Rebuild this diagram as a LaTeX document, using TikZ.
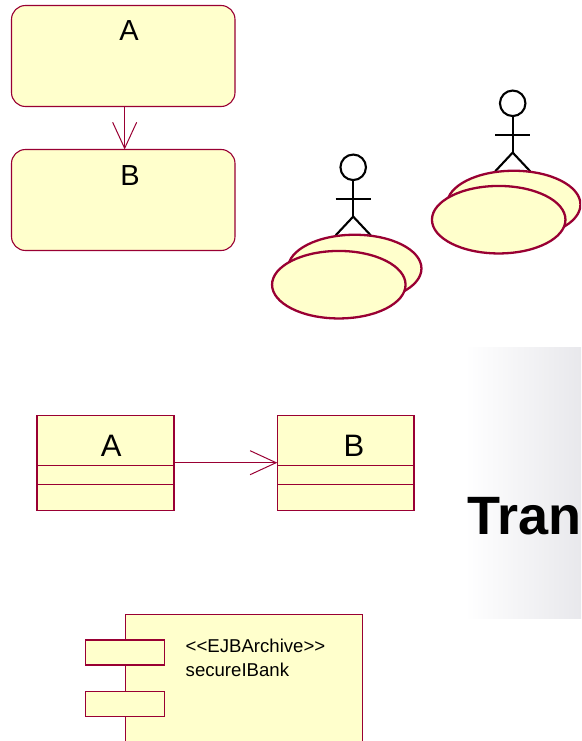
\documentclass[tikz,border=0pt]{standalone}
\usepackage{fontspec}
\setmainfont{Liberation Sans}
\usetikzlibrary{arrows.meta,shapes.geometric}
\definecolor{umlfill}{HTML}{FFFFCC}
\definecolor{umlline}{HTML}{990033}
\definecolor{bandgrey}{HTML}{E8E8EC}
\tikzset{
  statebox/.style={draw=umlline,fill=umlfill,line width=1.1pt,rounded corners=14pt,minimum width=223.5pt,minimum height=101pt,inner sep=0pt,outer sep=0pt},
  classbox/.style={draw=umlline,fill=umlfill,line width=1.3pt,minimum width=136.8pt,minimum height=95pt,inner sep=0pt,outer sep=0pt},
  compbody/.style={draw=umlline,fill=umlfill,line width=1.3pt,minimum width=236.5pt,minimum height=160pt,inner sep=0pt,outer sep=0pt},
  compport/.style={draw=umlline,fill=umlfill,line width=1.3pt,minimum width=79pt,minimum height=25pt,inner sep=0pt,outer sep=0pt},
  usecase/.style={ellipse,draw=umlline,fill=umlfill,line width=2.3pt,minimum width=133.5pt,minimum height=67.5pt,inner sep=0pt,outer sep=0pt},
  actorhead/.style={circle,draw=black,line width=2.1pt,minimum width=25.5pt,inner sep=0pt,outer sep=0pt},
  actorline/.style={draw=black,line width=2.1pt},
  conn/.style={draw=umlline,line width=1pt,-{Straight Barb[length=26pt,width=24pt,line width=1pt]}},
  divider/.style={draw=umlline,line width=1pt},
  big/.style={inner sep=0pt,anchor=base,text=black,font=\fontsize{29}{29}\selectfont},
  small/.style={inner sep=0pt,anchor=base west,text=black,font=\fontsize{18.6}{18.6}\selectfont},
}
\begin{document}
\begin{tikzpicture}[x=1pt,y=-1pt]
\useasboundingbox (0,0) rectangle (581,741);
\clip (0,0) rectangle (581,741);
% shaded band
\shade[left color=white,right color=bandgrey,draw=none] (465,347) rectangle (581,618);
\node[inner sep=0pt,anchor=base west,text=black,font=\fontsize{54}{54}\selectfont\bfseries] (tran) at (467.5,534.3) {Tran};
% state boxes
\node[statebox] (sa) at (123.25,56) {};
\node[statebox] (sb) at (123.25,200) {};
\node[big] (sal) at (129,41) {A};
\node[big] (sbl) at (130,185) {B};
\draw[conn] ([xshift=1.4pt]sa.south) -- ([xshift=1.4pt]sb.north);
% actors
\foreach \n/\x/\y in {l/353.2/167.3,r/512.7/103.3}{
  \node[actorhead] (head\n) at (\x,\y) {};
  \coordinate (hip\n) at (\x,\y+49.3);
  \coordinate (arml\n) at (\x-17.5,\y+31.7);
  \coordinate (armr\n) at (\x+17.5,\y+31.7);
  \coordinate (legl\n) at (\x-17.5,\y+68);
  \coordinate (legr\n) at (\x+17.5,\y+68);
  \draw[actorline] (head\n.south) -- (hip\n);
  \draw[actorline] (arml\n) -- (armr\n);
  \draw[actorline] (legl\n) -- (hip\n) -- (legr\n);
}
\node[usecase] (ulb) at (354.7,268.5) {};
\node[usecase] (ulf) at (338.8,284.7) {};
\node[usecase] (urb) at (513.7,204.5) {};
\node[usecase] (urf) at (498.7,219.7) {};
% classes
\node[classbox] (ca) at (105.5,462.7) {};
\node[classbox] (cb) at (345.7,462.7) {};
\draw[divider] (37.1,465.3) -- (173.9,465.3) (37.1,484.3) -- (173.9,484.3);
\draw[divider] (277.3,465.3) -- (414.1,465.3) (277.3,484.3) -- (414.1,484.3);
\node[big,font=\fontsize{31}{31}\selectfont] (cal) at (111.3,456) {A};
\node[big,font=\fontsize{31}{31}\selectfont] (cbl) at (354,456) {B};
\draw[conn] (ca.east) -- (cb.west);
% component
\node[compbody] (comp) at (244,694.7) {};
\node[compport] (p1) at (125.2,652.5) {};
\node[compport] (p2) at (125.2,704.3) {};
\node[small] (ct1) at (185.5,652.5) {<{}<EJBArchive>{}>};
\node[small] (ct2) at (185.5,676.2) {secureIBank};
\end{tikzpicture}
\end{document}
